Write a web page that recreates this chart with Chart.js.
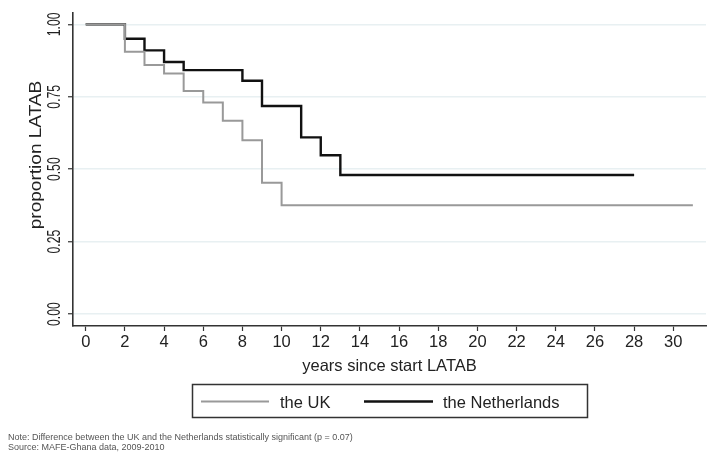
<!DOCTYPE html>
<html>
<head>
<meta charset="utf-8">
<script src="https://cdn.jsdelivr.net/npm/chart.js@4"></script>
<style>
  body { margin: 0; background: #fff; }
  #wrap { width: 714px; height: 456px; }
</style>
</head>
<body>
<div id="wrap"><canvas id="kmChart" width="714" height="456"></canvas></div>
<script>
// Kaplan-Meier steps: year of each drop and the proportion after it
const ukYears = [0, 2, 3, 4, 5, 6, 7, 8, 9, 10, 31];
const ukValues = [1.00, 0.905, 0.86, 0.83, 0.77, 0.73, 0.667, 0.60, 0.453, 0.376, 0.376];
const nlYears = [0, 2, 3, 4, 5, 8, 9, 11, 12, 13, 28];
const nlValues = [1.00, 0.95, 0.91, 0.87, 0.842, 0.805, 0.718, 0.61, 0.548, 0.48, 0.48];

const xTicks = [0, 2, 4, 6, 8, 10, 12, 14, 16, 18, 20, 22, 24, 26, 28, 30];
const yTicks = [0, 0.25, 0.5, 0.75, 1];

const noteLines = [
    'Note: Difference between the UK and the Netherlands statistically significant (p = 0.07)',
    'Source: MAFE-Ghana data, 2009-2010'
];

const FONT = '"Liberation Sans", Arial, Helvetica, sans-serif';

function toPoints(xs, ys) {
    return xs.map((x, i) => ({ x: x, y: ys[i] }));
}

// draws the rotated y labels, the legend box and the footnotes
const extras = {
    id: 'extras',
    afterDraw(chart) {
        const ctx = chart.ctx;
        const yScale = chart.scales.y;
        ctx.save();
        ctx.fillStyle = '#222';
        ctx.textAlign = 'center';
        ctx.textBaseline = 'middle';

        ctx.font = '18px ' + FONT;
        yScale.ticks.forEach(t => {
            ctx.save();
            ctx.translate(55, yScale.getPixelForValue(t.value));
            ctx.rotate(-Math.PI / 2);
            ctx.scale(0.68, 1);
            ctx.fillText(t.value.toFixed(2), 0, 0);
            ctx.restore();
        });

        ctx.save();
        ctx.font = '17px ' + FONT;
        ctx.translate(36, 155);
        ctx.rotate(-Math.PI / 2);
        ctx.scale(1.12, 1);
        ctx.fillText('proportion LATAB', 0, 0);
        ctx.restore();

        // legend
        ctx.strokeStyle = '#333';
        ctx.lineWidth = 1.5;
        ctx.strokeRect(192.5, 384.5, 395, 33);
        const items = [
            { ds: chart.data.datasets[0], x1: 201, x2: 269, tx: 280 },
            { ds: chart.data.datasets[1], x1: 364, x2: 433, tx: 443 }
        ];
        ctx.textAlign = 'left';
        ctx.font = '16.5px ' + FONT;
        items.forEach(it => {
            ctx.strokeStyle = it.ds.borderColor;
            ctx.lineWidth = it.ds.borderWidth;
            ctx.beginPath();
            ctx.moveTo(it.x1, 401.5);
            ctx.lineTo(it.x2, 401.5);
            ctx.stroke();
            ctx.fillStyle = '#222';
            ctx.fillText(it.ds.label, it.tx, 403);
        });

        // footnotes
        ctx.fillStyle = '#555';
        ctx.font = '9px ' + FONT;
        ctx.fillText(noteLines[0], 8, 438, 349);
        ctx.fillText(noteLines[1], 8, 447.5, 158);
        ctx.restore();
    }
};

const ctx = document.getElementById('kmChart').getContext('2d');
const kmChart = new Chart(ctx, {
    type: 'line',
    data: {
        datasets: [{
            label: 'the UK',
            data: toPoints(ukYears, ukValues),
            borderColor: '#999999',
            borderWidth: 2,
            stepped: 'before',
            pointRadius: 0,
            fill: false
        }, {
            label: 'the Netherlands',
            data: toPoints(nlYears, nlValues),
            borderColor: '#111111',
            borderWidth: 2.4,
            stepped: 'before',
            pointRadius: 0,
            fill: false
        }]
    },
    options: {
        responsive: false,
        animation: false,
        layout: {
            padding: { top: 13, right: 8, left: 0, bottom: 80 }
        },
        plugins: {
            legend: { display: false },
            tooltip: { enabled: false }
        },
        scales: {
            x: {
                type: 'linear',
                min: -0.65,
                max: 31.67,
                afterBuildTicks: s => { s.ticks = xTicks.map(v => ({ value: v })); },
                afterFit: s => { s.height = 50; },
                grid: {
                    drawOnChartArea: false,
                    tickLength: 5,
                    tickColor: '#333',
                    tickWidth: 1.2
                },
                border: { color: '#333', width: 1.6 },
                ticks: {
                    color: '#222',
                    padding: 2,
                    maxRotation: 0,
                    font: { family: FONT, size: 16.5 }
                },
                title: {
                    display: true,
                    text: 'years since start LATAB',
                    color: '#222',
                    padding: 0,
                    font: { family: FONT, size: 16.5 }
                }
            },
            y: {
                type: 'linear',
                min: -0.041,
                max: 1.039,
                afterBuildTicks: s => { s.ticks = yTicks.map(v => ({ value: v })); },
                afterFit: s => { s.width = 73; },
                grid: {
                    color: '#e8f0f2',
                    lineWidth: 1.5,
                    tickLength: 5,
                    tickColor: '#333',
                    tickWidth: 1.2
                },
                border: { color: '#333', width: 1.6 },
                ticks: {
                    color: 'rgba(0,0,0,0)',
                    font: { family: FONT, size: 14 }
                }
            }
        }
    },
    plugins: [extras]
});
</script>
</body>
</html>
